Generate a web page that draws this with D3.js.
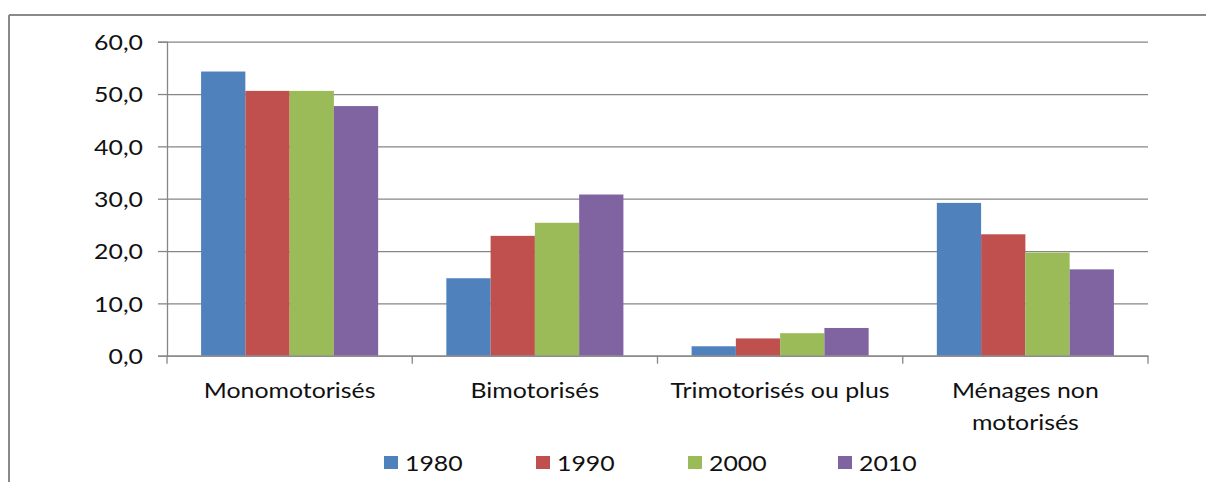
<!DOCTYPE html>
<html><head><meta charset="utf-8">
<script src="https://cdn.jsdelivr.net/npm/d3@7"></script>
<style>
html,body{margin:0;padding:0;background:#fff;}
svg{display:block;}
text{font-family:Lato,"Noto Sans",sans-serif;fill:#111;}
</style></head>
<body>
<svg id="chart" width="1206" height="482"></svg>
<script>
const categories = ["Monomotorisés", "Bimotorisés", "Trimotorisés ou plus", "Ménages non\nmotorisés"];
const years = ["1980", "1990", "2000", "2010"];
const v1980 = [54.3, 14.8, 1.8, 29.2];
const v1990 = [50.6, 22.9, 3.3, 23.2];
const v2000 = [50.6, 25.4, 4.3, 19.7];
const v2010 = [47.7, 30.8, 5.3, 16.5];
const yTicks = [0, 10, 20, 30, 40, 50, 60];
const colors = ["#4F81BD", "#C0504D", "#9BBB59", "#8064A2"];

const series = [v1980, v1990, v2000, v2010];
const stretch = 1.13;

const svg = d3.select("#chart");
const W = 1206, H = 482;
const m = {left: 167, right: W - 1148, top: 41.7, bottom: H - 355.7};
const x0 = d3.scaleBand().domain(categories).range([m.left, W - m.right]).padding(0);
const bw = x0.bandwidth();
const x1 = d3.scaleBand().domain(years).range([bw * 0.139, bw * 0.861]).padding(0);
const y = d3.scaleLinear().domain([0, 60]).range([H - m.bottom, m.top]);
const gridColor = "#868686";

// outer frame
svg.append("line").attr("x1", 9).attr("x2", 9).attr("y1", 15).attr("y2", H).attr("stroke", "#8a8a8a").attr("stroke-width", 2);
svg.append("line").attr("x1", 9).attr("x2", W).attr("y1", 15).attr("y2", 15).attr("stroke", "#8a8a8a").attr("stroke-width", 2);

// y axis with gridlines
const yAxis = d3.axisLeft(y).tickValues(yTicks).tickSize(9).tickPadding(15)
  .tickFormat(d => d3.format(".1f")(d).replace(".", ","));
const gy = svg.append("g").attr("transform", `translate(${m.left},0)`).call(yAxis);
gy.select(".domain").attr("stroke", gridColor).attr("stroke-width", 1.3);
gy.selectAll(".tick line").attr("stroke", gridColor).attr("stroke-width", 1.3);
gy.selectAll(".tick text").attr("font-size", 22).attr("fill", "#111").attr("dy", "0.35em")
  .style("font-family", "Lato");
gy.selectAll(".tick").append("line")
  .attr("x1", 0).attr("x2", W - m.right - m.left)
  .attr("stroke", gridColor).attr("stroke-width", 1.3);

// bars
const groups = svg.append("g").selectAll("g").data(categories).join("g")
  .attr("transform", d => `translate(${x0(d)},0)`);
groups.selectAll("rect").data((c, i) => years.map((yr, j) => ({yr, v: series[j][i], j})))
  .join("rect")
  .attr("x", d => x1(d.yr)).attr("width", x1.bandwidth())
  .attr("y", d => y(d.v)).attr("height", d => y(0) - y(d.v))
  .attr("fill", d => colors[d.j]);

// x axis
const xAxis = d3.axisBottom(x0).tickSize(0).tickFormat("");
const gx = svg.append("g").attr("transform", `translate(0,${y(0)})`).call(xAxis);
gx.select(".domain").attr("stroke", gridColor).attr("stroke-width", 1.3);
const bounds = categories.map(c => x0(c)).concat([W - m.right]);
svg.append("g").selectAll("line").data(bounds).join("line")
  .attr("x1", d => d).attr("x2", d => d).attr("y1", y(0)).attr("y2", y(0) + 8)
  .attr("stroke", gridColor).attr("stroke-width", 1.3);

// category labels
categories.forEach(c => {
  const lines = c.split("\n");
  lines.forEach((ln, k) => {
    svg.append("text").attr("class", "cat")
      .attr("x", x0(c) + bw / 2).attr("y", 398 + k * 32)
      .attr("text-anchor", "middle").attr("font-size", 22).text(ln);
  });
});

// legend
const legX = [384, 536, 688, 838];
const leg = svg.append("g").selectAll("g").data(years).join("g")
  .attr("transform", (d, i) => `translate(${legX[i]},0)`);
leg.append("rect").attr("x", 0).attr("y", 456).attr("width", 14).attr("height", 13)
  .attr("fill", (d, i) => colors[i]);
leg.append("text").attr("class", "leg").attr("x", 21).attr("y", 471).attr("font-size", 22).text(d => d);

// horizontal stretch to mimic source font proportions
svg.selectAll("text").each(function() {
  const len = this.getComputedTextLength();
  d3.select(this).attr("textLength", len * stretch).attr("lengthAdjust", "spacingAndGlyphs");
});
</script>
</body></html>
